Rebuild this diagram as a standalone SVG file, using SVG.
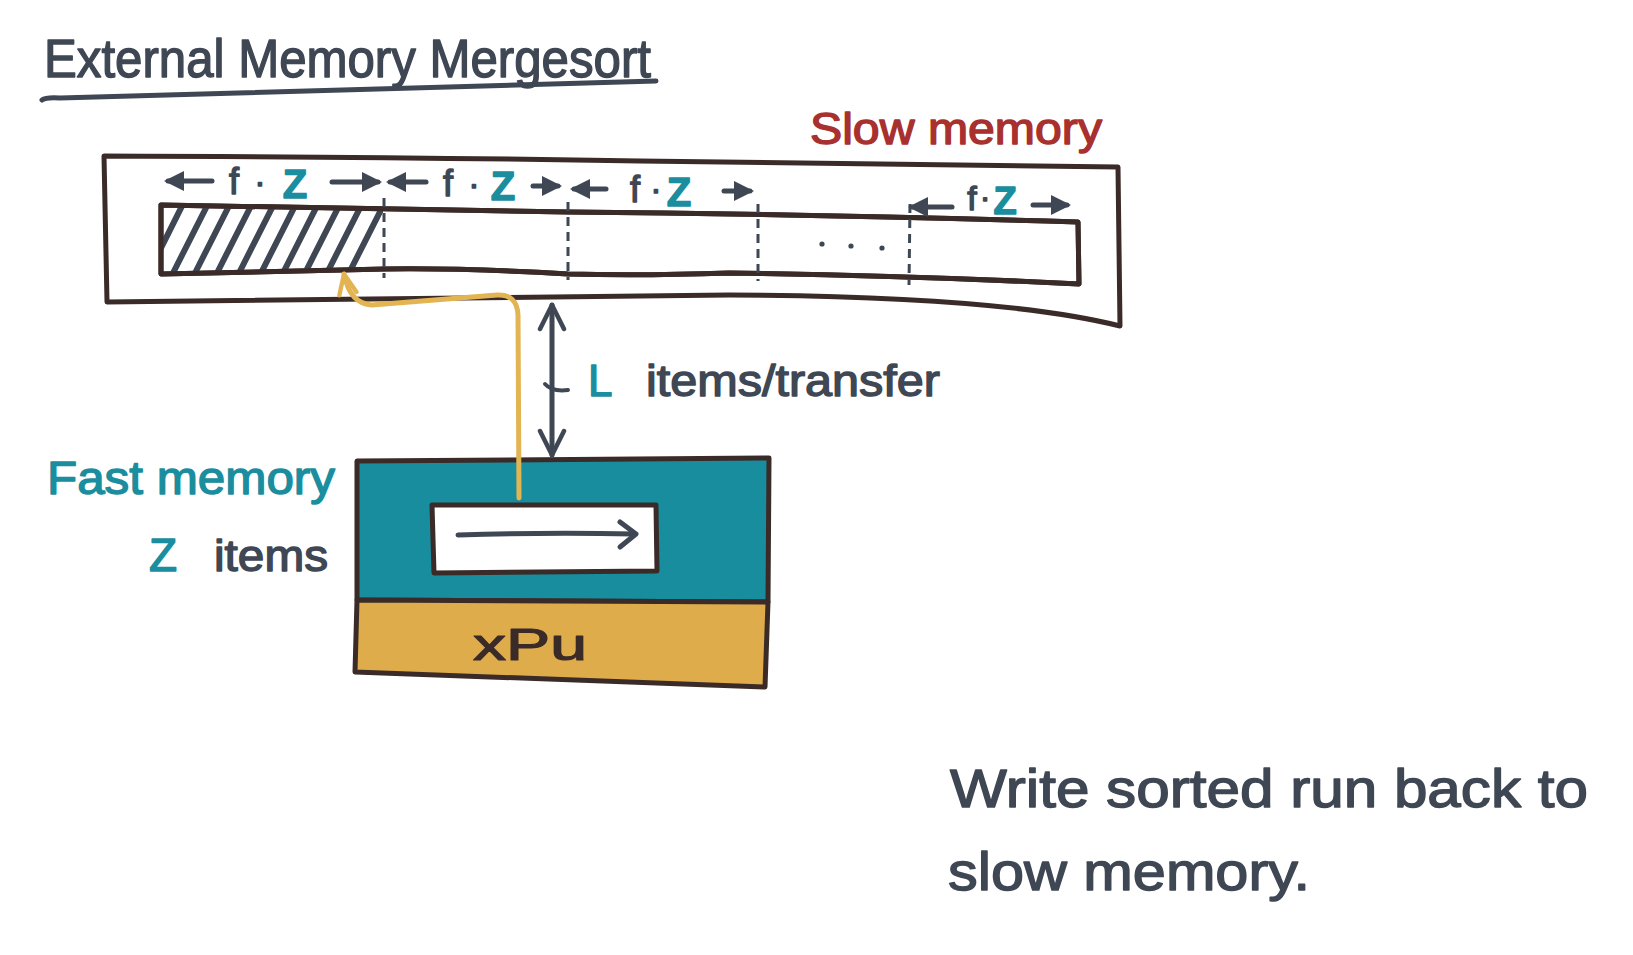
<svg xmlns="http://www.w3.org/2000/svg" width="1633" height="955" viewBox="0 0 1633 955">
<style>
.hand{font-family:"Liberation Sans","Noto Sans",sans-serif;stroke-linejoin:round;}
.gray{fill:#3e4753;stroke:#3e4753;stroke-width:1.4;}
.teal{fill:#1a8e9f;stroke:#1a8e9f;stroke-width:1.4;}
.red{fill:#a8302f;stroke:#a8302f;stroke-width:1.4;}
.brown{fill:#3b2b28;stroke:#3b2b28;stroke-width:1.2;}
.outline{fill:none;stroke:#3b2b28;stroke-width:5;stroke-linejoin:round;stroke-linecap:round;}
.arr{fill:none;stroke:#3e4753;stroke-width:5;stroke-linecap:round;}
.divider{fill:none;stroke:#3e4753;stroke-width:3;stroke-dasharray:9 6;}
.hatch{stroke:#3e4753;stroke-width:6;stroke-linecap:round;}
</style>
<defs>
<marker id="head" viewBox="0 0 10 10" refX="8" refY="5" markerWidth="4" markerHeight="4" orient="auto-start-reverse">
<path d="M0,0 L10,5 L0,10 Z" fill="#3e4753"/>
</marker>
<marker id="open" viewBox="0 0 20 20" refX="18" refY="10" markerWidth="6" markerHeight="6" orient="auto-start-reverse">
<path d="M2,2 L18,10 L2,18" fill="none" stroke="#3e4753" stroke-width="3" stroke-linecap="round" stroke-linejoin="round"/>
</marker>
<marker id="openY" viewBox="0 0 20 20" refX="18" refY="10" markerWidth="5" markerHeight="5" orient="auto">
<path d="M2,3 L18,10 L2,17" fill="none" stroke="#e3b552" stroke-width="3.5" stroke-linecap="round" stroke-linejoin="round"/>
</marker>
<clipPath id="hatchClip">
<path d="M161,205 L383,209 L383,270 L161,274 Z"/>
</clipPath>
</defs>
<rect width="1633" height="955" fill="#ffffff"/>

<g id="title">
<text class="hand gray" x="44" y="77" font-size="54" textLength="607" lengthAdjust="spacingAndGlyphs">External Memory Mergesort</text>
<path d="M42,100 Q46,97 60,98 L656,81" fill="none" stroke="#3e4753" stroke-width="5" stroke-linecap="round"/>
</g>

<g id="slow-memory">
<path class="outline" d="M104,156 Q400,157 640,161 Q900,164 1118,167 L1120,326 Q1000,296 729,295 L107,302 Z" fill="#ffffff"/>
<path class="outline" d="M161,205 Q400,210 568,212 Q800,214 1078,222 L1079,284 Q900,275 729,273 Q640,276 568,274 Q470,268 385,269 L161,274 Z" fill="#ffffff"/>
<g clip-path="url(#hatchClip)">
<line class="hatch" x1="150" y1="270" x2="185" y2="200"/>
<line class="hatch" x1="172" y1="275" x2="210" y2="200"/>
<line class="hatch" x1="194" y1="275" x2="232" y2="200"/>
<line class="hatch" x1="216" y1="275" x2="254" y2="200"/>
<line class="hatch" x1="238" y1="275" x2="276" y2="200"/>
<line class="hatch" x1="260" y1="275" x2="298" y2="200"/>
<line class="hatch" x1="282" y1="275" x2="320" y2="200"/>
<line class="hatch" x1="304" y1="275" x2="342" y2="200"/>
<line class="hatch" x1="326" y1="275" x2="364" y2="200"/>
<line class="hatch" x1="348" y1="275" x2="386" y2="200"/>
</g>
<path class="outline" d="M161,205 Q400,210 568,212 Q800,214 1078,222 L1079,284 Q900,275 729,273 Q640,276 568,274 Q470,268 385,269 L161,274 Z"/>
<line class="divider" x1="384" y1="198" x2="384" y2="278"/>
<line class="divider" x1="568" y1="202" x2="568" y2="280"/>
<line class="divider" x1="758" y1="204" x2="758" y2="281"/>
<line class="divider" x1="910" y1="204" x2="909" y2="285"/>
<circle cx="822" cy="244" r="2.6" fill="#3e4753"/>
<circle cx="851" cy="246" r="2.6" fill="#3e4753"/>
<circle cx="882" cy="248" r="2.6" fill="#3e4753"/>
<text class="hand red" x="810" y="144" font-size="44" textLength="292" lengthAdjust="spacingAndGlyphs">Slow memory</text>
</g>

<g id="block-labels">
<line class="arr" x1="212" y1="181" x2="168" y2="181" marker-end="url(#head)"/>
<text class="hand gray" x="234" y="194" font-size="36" text-anchor="middle">f</text>
<text class="hand gray" x="260" y="193" font-size="34" text-anchor="middle">·</text>
<text class="hand teal" x="295" y="198" font-size="40" font-weight="bold" text-anchor="middle">Z</text>
<line class="arr" x1="332" y1="182" x2="378" y2="182" marker-end="url(#head)"/>

<line class="arr" x1="426" y1="182" x2="390" y2="182" marker-end="url(#head)"/>
<text class="hand gray" x="448" y="196" font-size="36" text-anchor="middle">f</text>
<text class="hand gray" x="474" y="195" font-size="34" text-anchor="middle">·</text>
<text class="hand teal" x="503" y="200" font-size="40" font-weight="bold" text-anchor="middle">Z</text>
<line class="arr" x1="533" y1="186" x2="558" y2="186" marker-end="url(#head)"/>

<line class="arr" x1="606" y1="189" x2="574" y2="189" marker-end="url(#head)"/>
<text class="hand gray" x="635" y="202" font-size="36" text-anchor="middle">f</text>
<text class="hand gray" x="656" y="200" font-size="34" text-anchor="middle">·</text>
<text class="hand teal" x="679" y="206" font-size="40" font-weight="bold" text-anchor="middle">Z</text>
<line class="arr" x1="724" y1="191" x2="750" y2="191" marker-end="url(#head)"/>

<line class="arr" x1="952" y1="207" x2="912" y2="207" marker-end="url(#head)"/>
<text class="hand gray" x="972" y="210" font-size="34" text-anchor="middle">f</text>
<text class="hand gray" x="985" y="208" font-size="32" text-anchor="middle">·</text>
<text class="hand teal" x="1005" y="214" font-size="38" font-weight="bold" text-anchor="middle">Z</text>
<line class="arr" x1="1033" y1="205" x2="1067" y2="205" marker-end="url(#head)"/>
</g>

<g id="fast-memory">
<path d="M357,461 L769,458 L768,602 L357,600 Z" fill="#178d9e" stroke="#3b2b28" stroke-width="5" stroke-linejoin="round"/>
<path d="M432,505 L656,505 L657,571 L434,573 Z" fill="#ffffff" stroke="#3b2b28" stroke-width="5" stroke-linejoin="round"/>
<path d="M458,535 Q550,532 634,534" fill="none" stroke="#3e4753" stroke-width="5" stroke-linecap="round"/>
<path d="M620,522 L636,534 L620,547" fill="none" stroke="#3e4753" stroke-width="5" stroke-linecap="round" stroke-linejoin="round"/>
<text class="hand teal" x="47" y="494" font-size="46" textLength="288" lengthAdjust="spacingAndGlyphs">Fast memory</text>
<text class="hand teal" x="149" y="571" font-size="46">Z</text>
<text class="hand gray" x="214" y="571" font-size="44" textLength="114" lengthAdjust="spacingAndGlyphs">items</text>
</g>

<g id="cpu">
<path d="M357,600 L768,602 L765,687 L355,672 Z" fill="#dfac4b" stroke="#3b2b28" stroke-width="5" stroke-linejoin="round"/>
<text class="hand brown" x="530" y="660" font-size="44" text-anchor="middle" textLength="114" lengthAdjust="spacingAndGlyphs">xPu</text>
</g>

<g id="connectors">
<line x1="552" y1="305" x2="552" y2="455" fill="none" stroke="#3e4753" stroke-width="5" stroke-linecap="round" marker-start="url(#open)" marker-end="url(#open)"/>
<path d="M545,384 Q552,392 568,390" fill="none" stroke="#3e4753" stroke-width="4" stroke-linecap="round"/>
<path d="M519,498 L518,315 Q517,294 497,295 L372,305 Q350,304 344,274" fill="none" stroke="#e3b552" stroke-width="5" stroke-linecap="round" stroke-linejoin="round" marker-end="url(#openY)"/>
</g>

<g id="transfer-label">
<text class="hand teal" x="588" y="396" font-size="44">L</text>
<text class="hand gray" x="646" y="396" font-size="44" textLength="294" lengthAdjust="spacingAndGlyphs">items/transfer</text>
</g>

<g id="note">
<text class="hand gray" x="950" y="807" font-size="54" textLength="638" lengthAdjust="spacingAndGlyphs">Write sorted run back to</text>
<text class="hand gray" x="948" y="890" font-size="54" textLength="362" lengthAdjust="spacingAndGlyphs">slow memory.</text>
</g>
</svg>
